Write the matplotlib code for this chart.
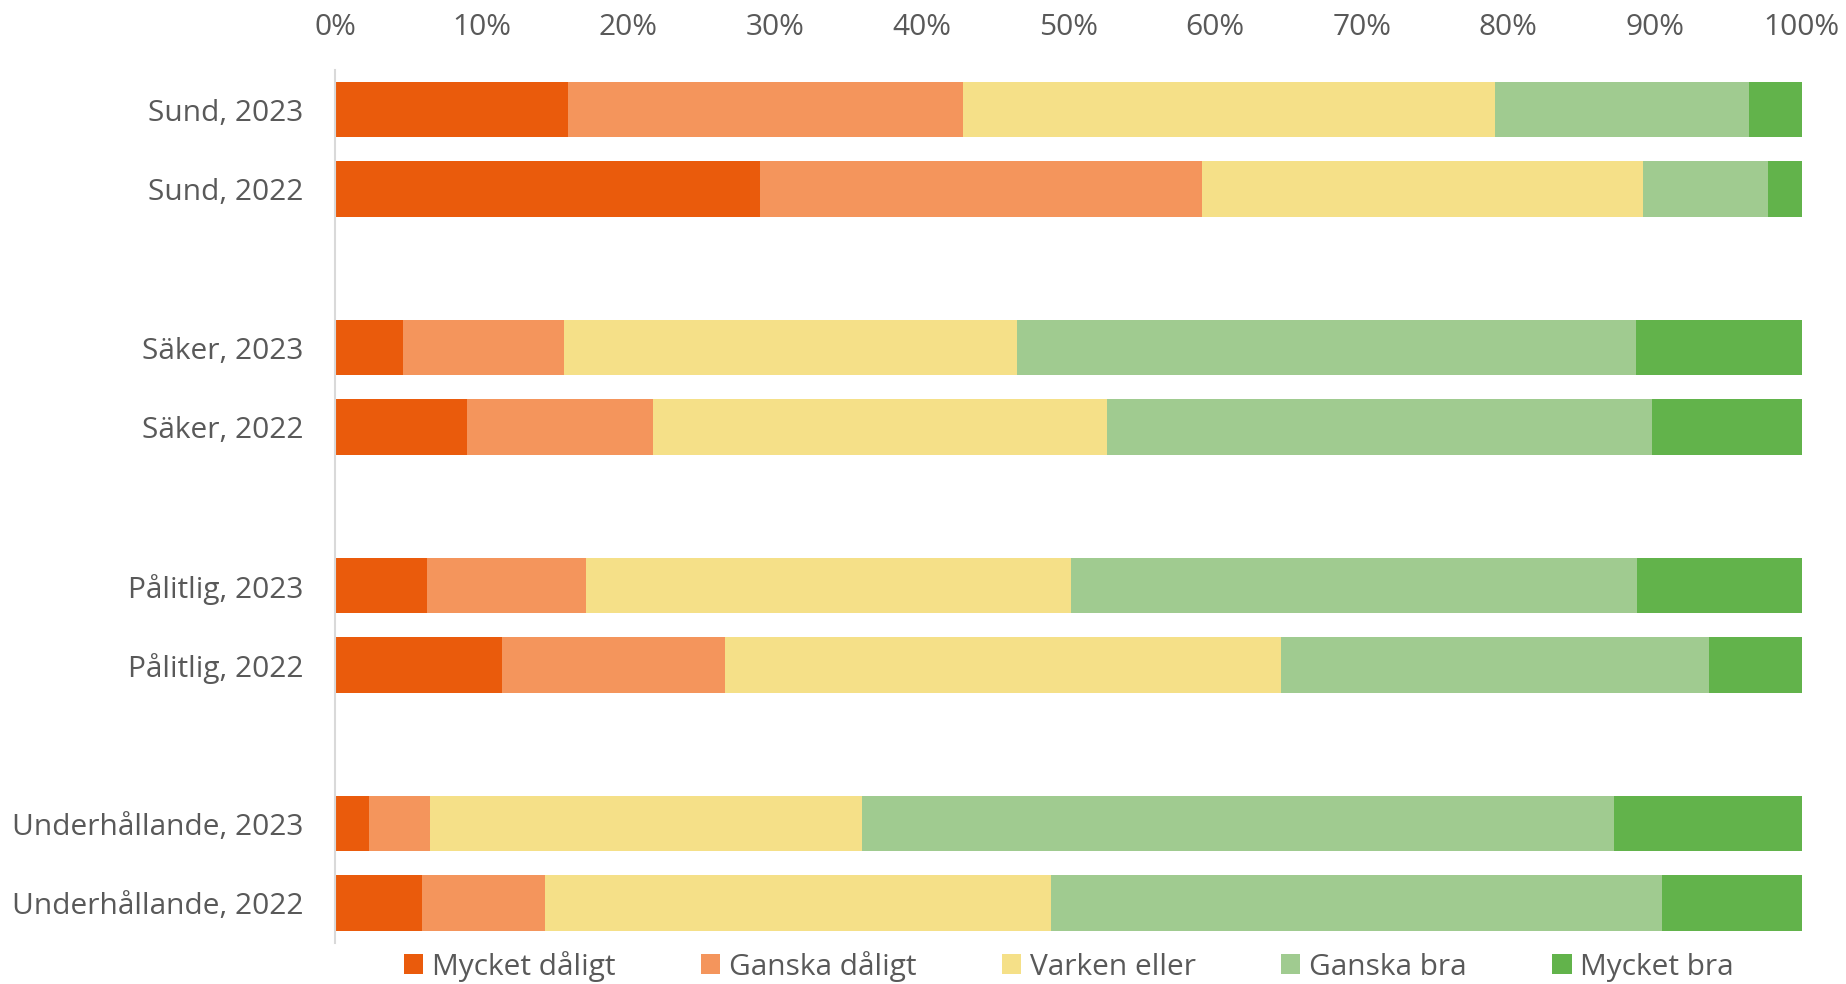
import matplotlib.pyplot as plt
import numpy as np

plt.rcParams['font.family'] = ['Open Sans', 'DejaVu Sans']

# rows from top to bottom; None marks an empty spacer row
labels = ["Sund, 2023", "Sund, 2022", None,
          "Säker, 2023", "Säker, 2022", None,
          "Pålitlig, 2023", "Pålitlig, 2022", None,
          "Underhållande, 2023", "Underhållande, 2022"]

series = ["Mycket dåligt", "Ganska dåligt", "Varken eller", "Ganska bra", "Mycket bra"]
colors = ["#EA5B0C", "#F4955C", "#F5E088", "#A0CB90", "#62B34B"]

mycket_daligt = [15.9, 29.0, 4.6, 9.0, 6.3, 11.4, 2.3, 5.9]
ganska_daligt = [26.9, 30.1, 11.0, 12.7, 10.8, 15.2, 4.2, 8.4]
varken_eller = [36.3, 30.1, 30.9, 30.9, 33.1, 37.9, 29.4, 34.5]
ganska_bra = [17.3, 8.5, 42.2, 37.2, 38.6, 29.2, 51.3, 41.7]
mycket_bra = [3.6, 2.3, 11.3, 10.2, 11.2, 6.3, 12.8, 9.5]

values = np.array([mycket_daligt, ganska_daligt, varken_eller, ganska_bra, mycket_bra])
values = values / values.sum(axis=0) * 100

ypos = [i for i, l in enumerate(labels) if l is not None]
ylabels = [l for l in labels if l is not None]

fig = plt.figure(figsize=(18.46, 9.84), dpi=100)
ax = fig.add_axes([0.1815, 0.042, 0.7945, 0.887])

left = np.zeros(len(ypos))
for name, vals, c in zip(series, values, colors):
    ax.barh(ypos, vals, left=left, height=0.7, color=c, label=name)
    left += vals

ax.set_xlim(0, 100)
ax.set_ylim(len(labels) - 0.5, -0.5)
ax.set_yticks(ypos)
ax.set_yticklabels(ylabels)
ax.set_xticks(np.arange(0, 101, 10))
ax.set_xticklabels([f"{v}%" for v in range(0, 101, 10)])
ax.xaxis.tick_top()
ax.tick_params(axis='both', length=0, labelsize=21.5, colors="#595959")
ax.tick_params(axis='x', pad=20)
ax.tick_params(axis='y', pad=23)
for s in ("top", "right", "bottom"):
    ax.spines[s].set_visible(False)
ax.spines["left"].set_color("#D9D9D9")
ax.spines["left"].set_linewidth(1.5)

leg = fig.legend(loc="center", bbox_to_anchor=(0.579, 0.018), ncol=5, frameon=False,
                 fontsize=21.5, handlelength=0.65, handleheight=0.65, handletextpad=0.3,
                 columnspacing=2.85)
for t in leg.get_texts():
    t.set_color("#595959")

fig.savefig("out.png", dpi=100)
